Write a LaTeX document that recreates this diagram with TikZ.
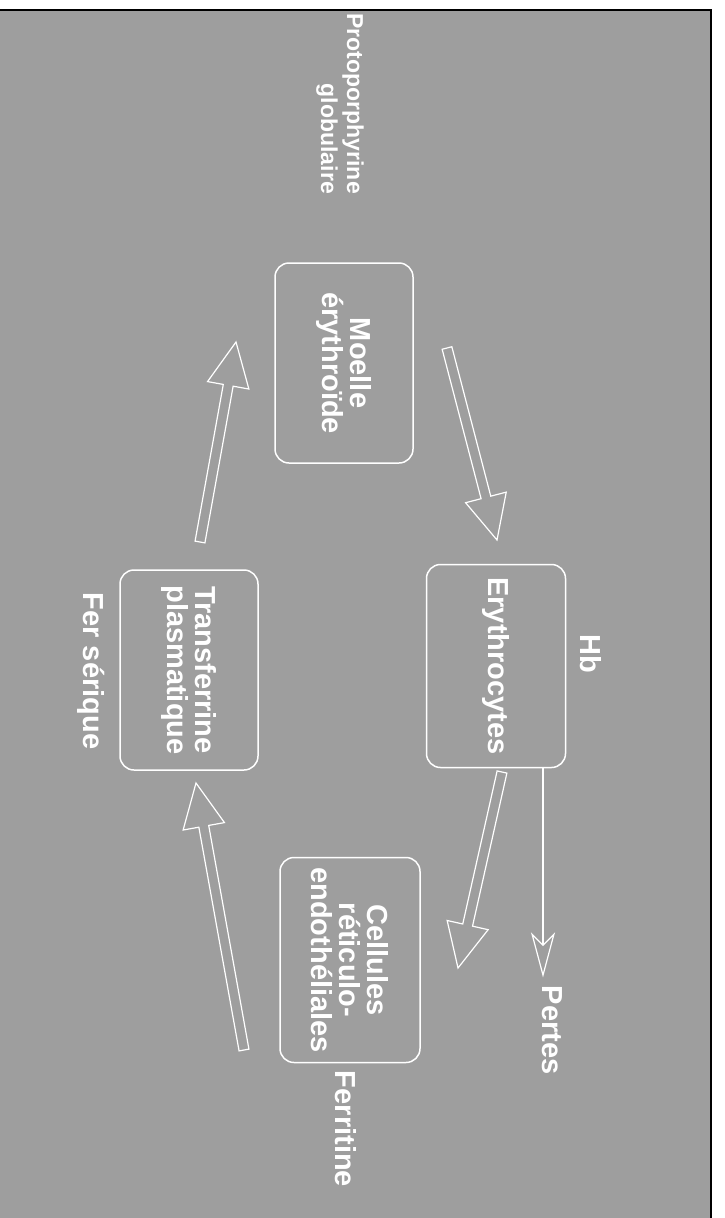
\documentclass[tikz,border=0pt]{standalone}
\usepackage{fontspec}
\setmainfont{Liberation Sans}
\usetikzlibrary{calc,arrows.meta}
\definecolor{bg}{RGB}{158,158,158}
\newcommand{\hollowarrow}[2]{%
  \coordinate (headbase) at ($(#2)!44pt!(#1)$);
  \draw[harrow] ($(#1)!5pt!90:(#2)$) -- ($(headbase)!5pt!90:(#2)$)
    -- ($(headbase)!21pt!90:(#2)$) -- (#2)
    -- ($(headbase)!21pt!-90:(#2)$) -- ($(headbase)!5pt!-90:(#2)$)
    -- ($(#1)!5pt!-90:(#2)$) -- cycle;}
\begin{document}
\begin{tikzpicture}[x=1pt,y=1pt,
  txt/.style={text=white, font=\bfseries\fontsize{29}{28}\selectfont},
  box/.style={txt, draw=white, line width=1.5pt, rounded corners=14pt,
    rotate=-90, align=center, inner sep=0pt},
  lbl/.style={txt, rotate=-90, align=center, inner sep=0pt},
  harrow/.style={draw=white, line width=1.2pt, line join=miter}]
\useasboundingbox (0,0) rectangle (724,-1218);
\fill[bg] (0,-10) rectangle (711,-1218);
\draw[black, line width=1.5pt] (0,-10) -- (711,-10) -- (711,-1218);

% boxes
\node[box, minimum width=200pt, minimum height=138pt] (moelle) at (344,-363) {Moelle\\érythroïde};
\node[box, minimum width=203pt, minimum height=139pt] (ery) at (496,-666) {Erythrocytes};
\node[box, minimum width=200pt, minimum height=138pt] (transf) at (189,-670) {Transferrine\\plasmatique};
\node[box, minimum width=205pt, minimum height=140pt] (cell) at (350,-960) {Cellules\\réticulo-\\endothéliales};

% labels
\node[lbl, align=right, anchor=east, font=\bfseries\fontsize{23}{26}\selectfont] (proto) at (340,-194) {Protoporphyrine\\globulaire};
\node[lbl] (hblbl) at (591,-654) {Hb};
\node[lbl] (pertes) at (552,-1030) {Pertes};
\node[lbl] (ferritine) at (346,-1129) {Ferritine};
\node[lbl] (fer) at (91,-671) {Fer sérique};

% hollow arrows
\coordinate (a1s) at (447,-348); \coordinate (a1e) at (497,-540);
\coordinate (a2s) at (200,-542); \coordinate (a2e) at (236,-342);
\coordinate (a3s) at (502,-772); \coordinate (a3e) at (458,-968);
\coordinate (a4s) at (244,-1050); \coordinate (a4e) at (196,-783);
\hollowarrow{a1s}{a1e}
\hollowarrow{a2s}{a2e}
\hollowarrow{a3s}{a3e}
\hollowarrow{a4s}{a4e}

% losses
\coordinate (ps) at ($(ery.east)+(47,0)$);
\draw[white, line width=1.2pt, shorten >=8pt,
  -{Stealth[open, length=45pt, width=24pt, inset=12pt]}] (ps) -- (ps |- pertes.west);
\end{tikzpicture}
\end{document}
